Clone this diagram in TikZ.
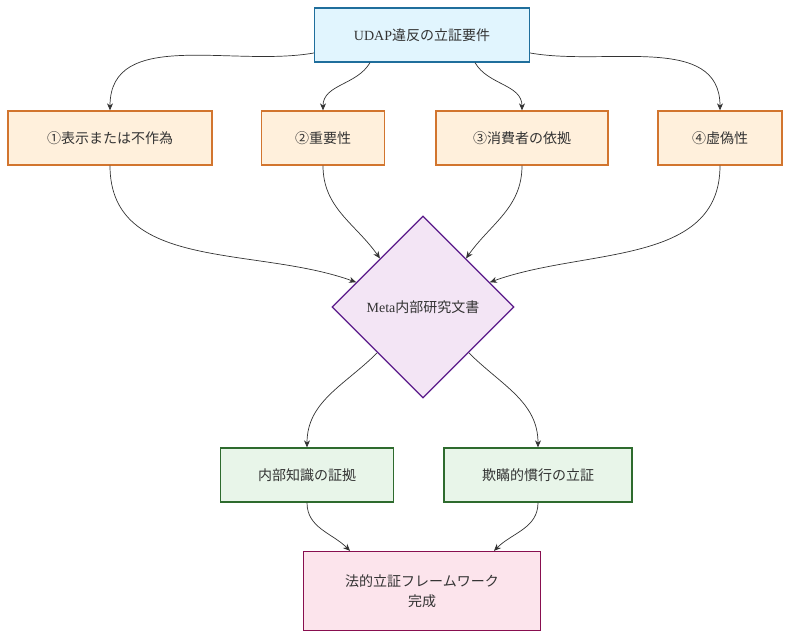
\documentclass[tikz,border=0pt]{standalone}
\usepackage{fontspec}
\setmainfont{Liberation Serif}
\newfontfamily\cjk{Noto Sans CJK JP}
\usetikzlibrary{shapes.geometric,arrows.meta,calc}
\definecolor{blueF}{HTML}{E1F5FE}\definecolor{blueD}{HTML}{1F6E9C}
\definecolor{orF}{HTML}{FFF0DC}\definecolor{orD}{HTML}{D2752E}
\definecolor{puF}{HTML}{F3E5F5}\definecolor{puD}{HTML}{5A1A8A}
\definecolor{grF}{HTML}{E8F5E9}\definecolor{grD}{HTML}{2E6B2E}
\definecolor{piF}{HTML}{FCE4EC}\definecolor{piD}{HTML}{880E4F}
\tikzset{
  box/.style={draw, line width=1.3pt, minimum height=54pt, align=center,
    font=\fontsize{14}{20}\selectfont\cjk, text=black!80},
  link/.style={draw=black!80, line width=0.7pt, -{Stealth[length=7pt,width=6pt]}}
}
\begin{document}
\begin{tikzpicture}[x=1pt,y=-1pt]
\useasboundingbox (0,0) rectangle (790,639);

% nodes
\node[box, fill=blueF, draw=blueD, minimum width=215pt] (top) at (422,35) {{\rmfamily UDAP}違反の立証要件};
\node[box, fill=orF, draw=orD, minimum width=204pt] (n1) at (110,138) {①表示または不作為};
\node[box, fill=orF, draw=orD, minimum width=123pt] (n2) at (323,138) {②重要性};
\node[box, fill=orF, draw=orD, minimum width=172pt] (n3) at (522,138) {③消費者の依拠};
\node[box, fill=orF, draw=orD, minimum width=124pt] (n4) at (720,138) {④虚偽性};
\node[box, diamond, fill=puF, draw=puD, minimum width=182pt, minimum height=182pt, inner sep=0pt] (dia) at (423,307) {{\rmfamily Meta}内部研究文書};
\node[box, fill=grF, draw=grD, minimum width=173pt] (k1) at (307,475) {内部知識の証拠};
\node[box, fill=grF, draw=grD, minimum width=188pt] (k2) at (538,475) {欺瞞的慣行の立証};
\node[box, fill=piF, draw=piD, minimum width=237pt, minimum height=79pt] (bot) at (422,591) {法的立証フレームワーク\\完成};

% connectors
\draw[link] ([yshift=-18pt]top.west) to[out=190,in=90] (n1.north);
\draw[link] ([xshift=-52pt]top.south) to[out=240,in=90] (n2.north);
\draw[link] ([xshift=53pt]top.south) to[out=-60,in=90] (n3.north);
\draw[link] ([yshift=-18pt]top.east) to[out=-10,in=90] (n4.north);

\draw[link] (n1.south) to[out=-90,in=160] ($(dia.west)!0.27!(dia.north)$);
\draw[link] (n2.south) to[out=-90,in=125] ($(dia.west)!0.53!(dia.north)$);
\draw[link] (n3.south) to[out=-90,in=55] ($(dia.east)!0.53!(dia.north)$);
\draw[link] (n4.south) to[out=-90,in=20] ($(dia.east)!0.27!(dia.north)$);

\draw[link] ($(dia.west)!0.5!(dia.south)$) to[out=-135,in=90] (k1.north);
\draw[link] ($(dia.east)!0.5!(dia.south)$) to[out=-45,in=90] (k2.north);

\draw[link] (k1.south) to[out=-90,in=135] ([xshift=-72pt]bot.north);
\draw[link] (k2.south) to[out=-90,in=45] ([xshift=72pt]bot.north);
\end{tikzpicture}
\end{document}
